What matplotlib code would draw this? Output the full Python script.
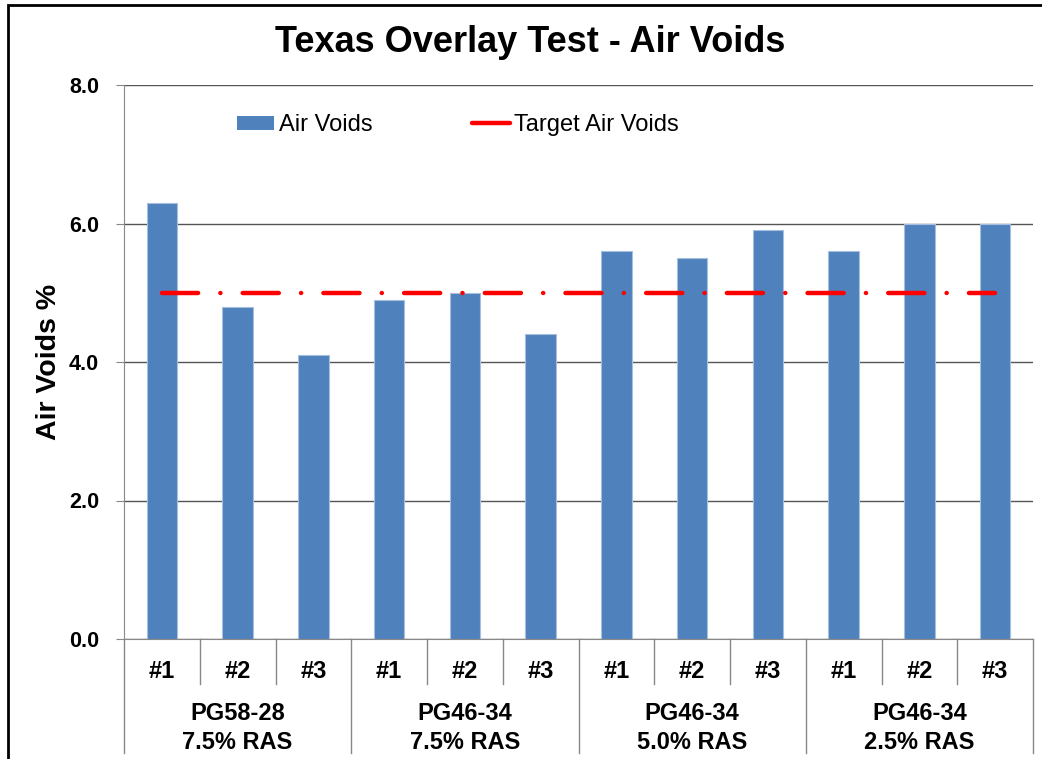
import matplotlib
matplotlib.use("Agg")
import matplotlib.pyplot as plt
from matplotlib.patches import Rectangle, Patch
from matplotlib.lines import Line2D
import numpy as np

plt.rcParams['font.family'] = ['Liberation Sans', 'DejaVu Sans']
plt.rcParams['lines.scale_dashes'] = False

# data
samples = ['#1', '#2', '#3'] * 4
groups = ['PG58-28\n7.5% RAS', 'PG46-34\n7.5% RAS', 'PG46-34\n5.0% RAS', 'PG46-34\n2.5% RAS']
air_voids = [6.3, 4.8, 4.1, 4.9, 5.0, 4.4, 5.6, 5.5, 5.9, 5.6, 6.0, 6.0]
target = 5.0

W, H = 1042, 759
fig = plt.figure(figsize=(W / 100, H / 100), dpi=100)
ax = fig.add_axes([124 / W, 1 - 639 / H, (1033 - 124) / W, (639 - 85) / H])

x = np.arange(len(air_voids))
ax.bar(x, air_voids, width=0.4, color='#4f81bd', edgecolor='#a7bfde', linewidth=0.8,
       zorder=2)
ax.plot([x[0], x[-1]], [target, target], color='#ff0000', linewidth=3.2,
        dashes=(26, 16, 0.1, 16), dash_capstyle='round', zorder=3)

ax.set_xlim(-0.5, len(air_voids) - 0.5)
ax.set_ylim(0, 8)
ax.set_yticks(np.arange(0, 8.1, 2.0))
ax.set_yticklabels(['%.1f' % v for v in np.arange(0, 8.1, 2.0)], fontsize=15.5, fontweight='bold')
ax.yaxis.grid(True, color='#555555', linewidth=1.0, zorder=0)
ax.tick_params(axis='y', length=6, color='#888888', pad=12)
ax.set_xticks([])
for s in ['top', 'right']:
    ax.spines[s].set_visible(False)
ax.spines['left'].set_color('#888888')
ax.spines['bottom'].set_color('#888888')

ax.set_ylabel('Air Voids %', fontsize=20.5, fontweight='bold', labelpad=5)
fig.text(530 / W, 1 - 42 / H, 'Texas Overlay Test - Air Voids', ha='center', va='center',
         fontsize=26, fontweight='bold')

# category axis
tr = ax.get_xaxis_transform()
ph = 554.0
for i, s in enumerate(samples):
    ax.text(i, -33 / ph, s, transform=tr, ha='center', va='center', fontsize=17,
            fontweight='bold')
for k, g in enumerate(groups):
    ax.text(3 * k + 1, -89 / ph, g, transform=tr, ha='center', va='center', fontsize=17,
            fontweight='bold', linespacing=1.3)
for b in range(len(samples) + 1):
    yb = -114 / ph if b % 3 == 0 else -45 / ph
    ax.add_line(Line2D([b - 0.5, b - 0.5], [0, yb], transform=tr, color='#888888',
                       linewidth=1.0, clip_on=False))

handles = [Patch(facecolor='#4f81bd', edgecolor='none', label='Air Voids'),
           Line2D([], [], color='#ff0000', linewidth=3.2, solid_capstyle='round',
                  label='Target Air Voids')]
leg = ax.legend(handles=handles, loc='upper left', bbox_to_anchor=(0.111, 0.969), ncol=2,
                frameon=False, fontsize=17, columnspacing=4.2, handlelength=1.6,
                handleheight=0.55, handletextpad=0.2, borderpad=0)

# outer chart border
fig.add_artist(Rectangle((8 / W, -0.1), 1.2, 1 - 5 / H + 0.1, transform=fig.transFigure,
                         fill=False, edgecolor='black', linewidth=2))

fig.savefig('out.png', dpi=100)
